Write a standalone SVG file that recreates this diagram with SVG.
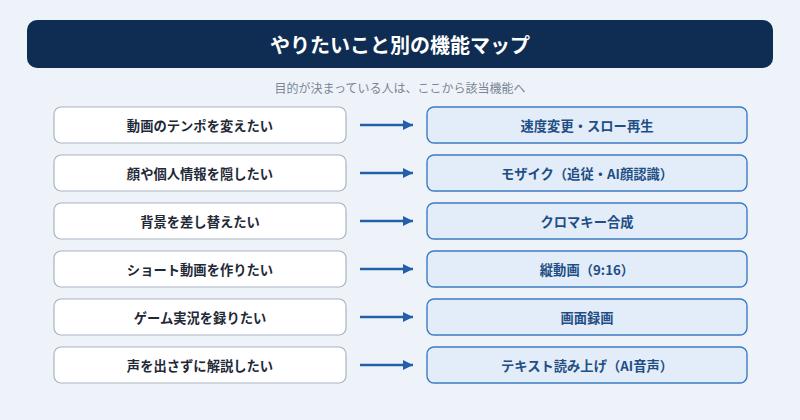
<svg xmlns="http://www.w3.org/2000/svg" width="800" height="420" viewBox="0 0 800 420">
<defs>
<style>
text{font-family:"Noto Sans CJK JP","Noto Sans CJK SC",sans-serif;text-anchor:middle;dominant-baseline:central}
.ttl{fill:#ffffff;font-size:20px;font-weight:700}
.sub{fill:#7a8594;font-size:12px}
.lb{fill:#ffffff;stroke:#a9b3c1;stroke-width:1.2}
.rb{fill:#e2edf9;stroke:#3b7cc4;stroke-width:1.4}
.lt{fill:#1f2937;font-size:13.3px;font-weight:700}
.rt{fill:#1f4e85;font-size:13.3px;font-weight:700}
.ar{stroke:#2260a8;stroke-width:2.5;fill:none}
</style>
<marker id="ah" viewBox="0 0 10 10" refX="10" refY="5" markerWidth="4" markerHeight="4" markerUnits="strokeWidth" orient="auto">
<path d="M0,0 L10,5 L0,10 z" fill="#2260a8"/>
</marker>
</defs>
<rect width="800" height="420" fill="#eef3fa"/>
<g id="title">
<rect x="27" y="20" width="746" height="48" rx="10" fill="#0f2d52"/>
<text class="ttl" x="400" y="44">やりたいこと別の機能マップ</text>
</g>
<text class="sub" x="400" y="87">目的が決まっている人は、ここから該当機能へ</text>
<g id="connectors">
<line class="ar" x1="360" y1="125" x2="413" y2="125" marker-end="url(#ah)"/>
<line class="ar" x1="360" y1="173" x2="413" y2="173" marker-end="url(#ah)"/>
<line class="ar" x1="360" y1="221" x2="413" y2="221" marker-end="url(#ah)"/>
<line class="ar" x1="360" y1="269" x2="413" y2="269" marker-end="url(#ah)"/>
<line class="ar" x1="360" y1="317" x2="413" y2="317" marker-end="url(#ah)"/>
<line class="ar" x1="360" y1="365" x2="413" y2="365" marker-end="url(#ah)"/>
</g>
<g id="need1"><rect class="lb" x="54" y="107" width="292" height="36" rx="7"/><text class="lt" x="200" y="125">動画のテンポを変えたい</text></g>
<g id="need2"><rect class="lb" x="54" y="155" width="292" height="36" rx="7"/><text class="lt" x="200" y="173">顔や個人情報を隠したい</text></g>
<g id="need3"><rect class="lb" x="54" y="203" width="292" height="36" rx="7"/><text class="lt" x="200" y="221">背景を差し替えたい</text></g>
<g id="need4"><rect class="lb" x="54" y="251" width="292" height="36" rx="7"/><text class="lt" x="200" y="269">ショート動画を作りたい</text></g>
<g id="need5"><rect class="lb" x="54" y="299" width="292" height="36" rx="7"/><text class="lt" x="200" y="317">ゲーム実況を録りたい</text></g>
<g id="need6"><rect class="lb" x="54" y="347" width="292" height="36" rx="7"/><text class="lt" x="200" y="365">声を出さずに解説したい</text></g>
<g id="feat1"><rect class="rb" x="427" y="107" width="320" height="36" rx="7"/><text class="rt" x="587" y="125">速度変更・スロー再生</text></g>
<g id="feat2"><rect class="rb" x="427" y="155" width="320" height="36" rx="7"/><text class="rt" x="587" y="173">モザイク（追従・AI顔認識）</text></g>
<g id="feat3"><rect class="rb" x="427" y="203" width="320" height="36" rx="7"/><text class="rt" x="587" y="221">クロマキー合成</text></g>
<g id="feat4"><rect class="rb" x="427" y="251" width="320" height="36" rx="7"/><text class="rt" x="587" y="269">縦動画（9:16）</text></g>
<g id="feat5"><rect class="rb" x="427" y="299" width="320" height="36" rx="7"/><text class="rt" x="587" y="317">画面録画</text></g>
<g id="feat6"><rect class="rb" x="427" y="347" width="320" height="36" rx="7"/><text class="rt" x="587" y="365">テキスト読み上げ（AI音声）</text></g>
</svg>
